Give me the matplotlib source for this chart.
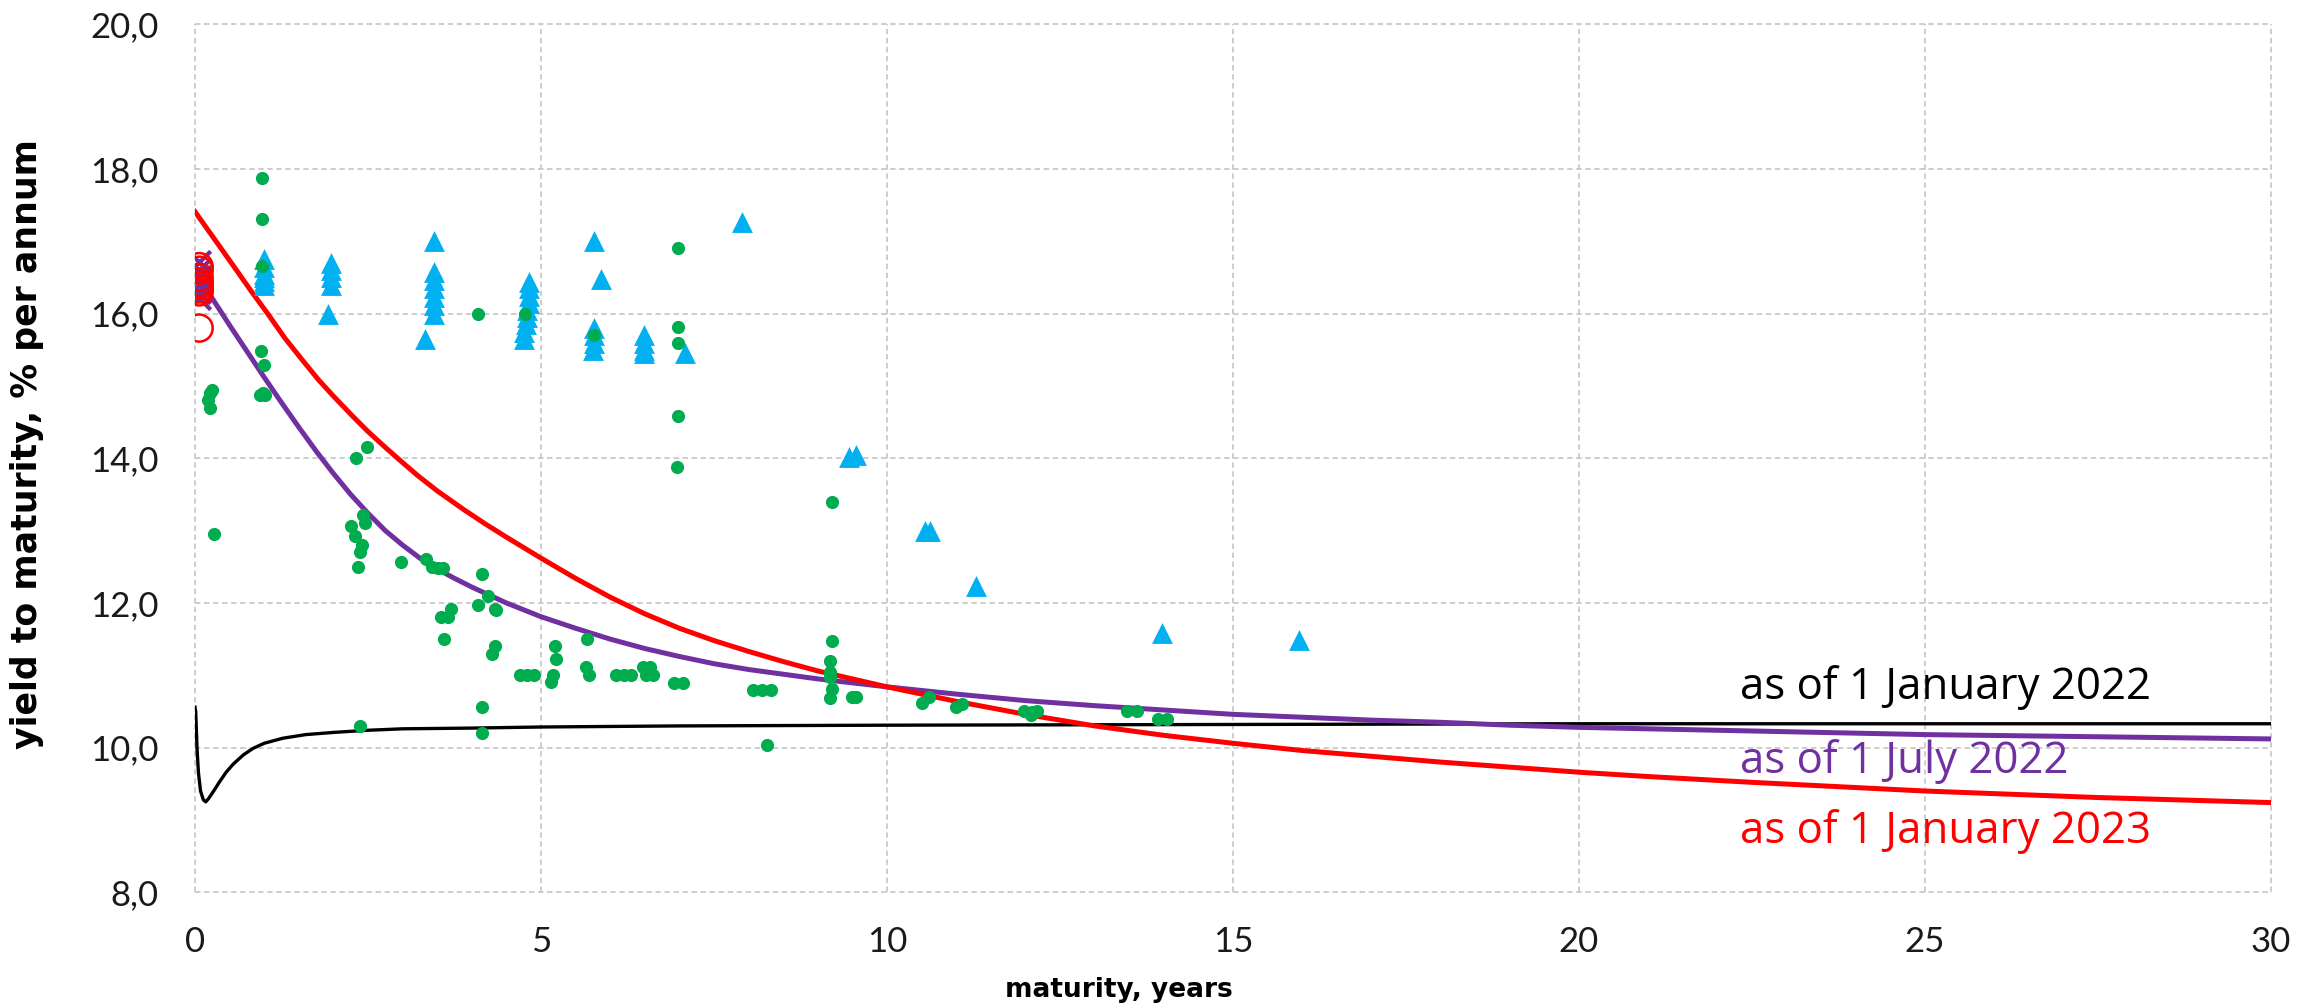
import matplotlib
matplotlib.use("Agg")
import matplotlib.pyplot as plt

# ---------------- data ----------------
# Curve: as of 1 January 2022
jan22_x = [0.0, 0.01, 0.03, 0.05, 0.08, 0.12, 0.155, 0.2, 0.27, 0.35, 0.45, 0.55, 0.7, 0.84, 1.0, 1.27, 1.6,
           2.0, 2.5, 3.0, 4.0, 5.0, 7.0, 10.0, 15.0, 20.0, 25.0, 30.0]
jan22_y = [10.56, 10.5, 9.97, 9.65, 9.4, 9.28, 9.25, 9.3, 9.4, 9.52, 9.66, 9.77, 9.9, 9.99, 10.06, 10.13, 10.18,
           10.21, 10.24, 10.26, 10.27, 10.285, 10.30, 10.31, 10.32, 10.33, 10.33, 10.33]

# Curve: as of 1 July 2022
jul22_x = [0.0, 0.25, 0.5, 0.75, 1.0, 1.25, 1.5, 1.75, 2.0, 2.25, 2.5, 2.75, 3.0, 3.25, 3.5, 3.75, 4.0, 4.5,
           5.0, 5.5, 6.0, 6.5, 7.0, 7.5, 8.0, 9.0, 10.0, 11.0, 12.0, 13.0, 14.0, 15.0, 16.0, 17.0, 18.0,
           19.0, 20.0, 22.0, 25.0, 27.5, 30.0]
jul22_y = [16.58, 16.21, 15.84, 15.48, 15.12, 14.77, 14.43, 14.1, 13.79, 13.5, 13.24, 13.0, 12.8, 12.62, 12.47,
           12.34, 12.22, 12.0, 11.81, 11.65, 11.5, 11.37, 11.26, 11.16, 11.08, 10.95, 10.84, 10.74, 10.65,
           10.58, 10.52, 10.46, 10.42, 10.38, 10.35, 10.31, 10.28, 10.24, 10.18, 10.15, 10.12]

# Curve: as of 1 January 2023
jan23_x = [0.0, 0.2, 0.4, 0.6, 0.82, 1.05, 1.3, 1.55, 1.78, 2.0, 2.26, 2.5, 2.74, 3.0, 3.22, 3.5, 3.9, 4.2,
           4.5, 5.0, 5.5, 6.0, 6.5, 7.0, 7.5, 8.0, 8.5, 9.0, 9.5, 10.0, 11.0, 12.0, 13.0, 14.0, 15.0, 16.0,
           17.0, 18.0, 19.0, 20.0, 21.0, 22.5, 25.0, 27.5, 30.0]
jan23_y = [17.41, 17.14, 16.87, 16.6, 16.3, 16.0, 15.66, 15.36, 15.09, 14.86, 14.6, 14.37, 14.16, 13.94, 13.76,
           13.55, 13.28, 13.09, 12.91, 12.62, 12.34, 12.08, 11.85, 11.65, 11.48, 11.33, 11.19, 11.06, 10.95,
           10.84, 10.64, 10.46, 10.3, 10.17, 10.06, 9.96, 9.88, 9.8, 9.73, 9.66, 9.6, 9.52, 9.4, 9.31, 9.24]

# Green dots
green_x = [0.97, 0.97, 0.97, 0.96, 1.0, 0.94, 0.98, 1.01,
           0.24, 0.22, 0.19, 0.22, 2.32, 2.48,
           4.09, 4.77, 5.77, 6.98, 6.98, 6.98, 6.98, 6.96,
           0.28, 2.26, 2.43, 2.45, 2.31, 2.41, 2.38, 2.35, 2.98,
           3.34, 3.42, 3.51, 3.58, 4.15, 4.23, 4.09, 4.33, 4.35,
           3.70, 3.56, 3.66, 3.60, 4.33, 4.29, 4.70, 4.80, 4.90,
           5.20, 5.21, 5.17, 5.15, 5.66, 5.65, 5.70, 6.08, 6.20, 6.30,
           2.38, 4.15, 4.15,
           9.21, 9.20, 9.18, 9.17, 9.17, 9.21, 9.18, 9.50, 9.55,
           6.47, 6.57, 6.52, 6.62, 6.92, 7.05, 8.06, 8.20, 8.33, 8.27,
           10.51, 10.61, 11.0, 11.09, 11.98, 12.1, 12.17, 12.08,
           13.47, 13.62, 13.91, 14.05]
green_y = [17.88, 17.31, 16.66, 15.49, 15.29, 14.87, 14.9, 14.88,
           14.94, 14.9, 14.81, 14.69, 14.0, 14.15,
           16.0, 16.0, 15.70, 16.91, 15.81, 15.60, 14.59, 13.88,
           12.95, 13.07, 13.22, 13.11, 12.92, 12.80, 12.71, 12.50, 12.56,
           12.61, 12.50, 12.49, 12.49, 12.40, 12.10, 11.97, 11.92, 11.90,
           11.91, 11.81, 11.81, 11.50, 11.40, 11.30, 11.0, 11.0, 11.0,
           11.40, 11.23, 11.0, 10.91, 11.50, 11.11, 11.0, 11.0, 11.0, 11.0,
           10.30, 10.56, 10.20,
           13.39, 11.48, 11.20, 11.05, 10.98, 10.81, 10.68, 10.70, 10.70,
           11.12, 11.12, 11.0, 11.0, 10.9, 10.9, 10.80, 10.80, 10.80, 10.03,
           10.61, 10.70, 10.56, 10.60, 10.51, 10.49, 10.50, 10.45,
           10.50, 10.50, 10.40, 10.40]

# Blue triangles
blue_x = [1.0, 1.0, 1.0, 1.0, 1.0, 1.0,
          1.97, 1.97, 1.97, 1.97, 1.92,
          3.455, 3.455, 3.455, 3.455, 3.455, 3.455, 3.455, 3.33,
          4.83, 4.83, 4.83, 4.83, 4.8, 4.8, 4.78, 4.76, 4.76,
          5.77, 5.87, 5.77, 5.77, 5.77, 5.75,
          6.49, 6.49, 6.49, 6.49,
          7.08, 7.91, 9.45, 9.55, 10.55, 10.62, 11.28, 13.98, 15.95]
blue_y = [16.75, 16.65, 16.55, 16.5, 16.45, 16.4,
          16.70, 16.6, 16.5, 16.4, 16.0,
          17.0, 16.58, 16.46, 16.35, 16.23, 16.12, 16.0, 15.65,
          16.44, 16.35, 16.25, 16.15, 16.05, 15.95, 15.85, 15.75, 15.65,
          17.0, 16.48, 15.8, 15.7, 15.6, 15.5,
          15.7, 15.6, 15.5, 15.45,
          15.46, 17.27, 14.02, 14.05, 13.0, 13.0, 12.24, 11.59, 11.49]

# Short-term points near zero maturity
redc_x = [0.06, 0.06, 0.06, 0.06, 0.06, 0.06, 0.06, 0.06]
redc_y = [16.65, 16.6, 16.5, 16.43, 16.39, 16.34, 16.3, 15.80]
purx_x = [0.06, 0.06, 0.06, 0.06, 0.06, 0.06]
purx_y = [16.72, 16.6, 16.5, 16.4, 16.3, 16.22]

xticks = [0, 5, 10, 15, 20, 25, 30]
yticks = [8, 10, 12, 14, 16, 18, 20]
ytick_labels = ["8,0", "10,0", "12,0", "14,0", "16,0", "18,0", "20,0"]
curve_labels = ["as of 1 January 2022", "as of 1 July 2022", "as of 1 January 2023"]

# ---------------- colours ----------------
C_BLACK = "#000000"
C_PURPLE = "#7030A0"
C_RED = "#FF0000"
C_GREEN = "#00AC4E"
C_BLUE = "#00B0F0"

fig = plt.figure(figsize=(23.2, 10.08), dpi=100)
ax = fig.add_axes([0.08405, 0.1148, 0.8948, 0.8611])

ax.plot(jan22_x, jan22_y, color=C_BLACK, lw=2.4, zorder=3, solid_joinstyle="round")
ax.plot(jul22_x, jul22_y, color=C_PURPLE, lw=3.6, zorder=3, solid_joinstyle="round")
ax.plot(jan23_x, jan23_y, color=C_RED, lw=3.6, zorder=4, solid_joinstyle="round")

ax.scatter(purx_x, purx_y, marker="x", s=260, color=C_PURPLE, linewidths=3, zorder=5)
ax.scatter(redc_x, redc_y, marker="o", s=380, facecolors="none", edgecolors=C_RED, linewidths=1.8, zorder=6)
ax.scatter(blue_x, blue_y, marker="^", s=225, color=C_BLUE, linewidths=0, zorder=6)
ax.scatter(green_x, green_y, marker="o", s=90, color=C_GREEN, linewidths=0, zorder=7)

ax.set_xlim(0, 30)
ax.set_ylim(8, 20)
ax.set_xticks(xticks)
ax.set_xticklabels([str(v) for v in xticks])
ax.set_yticks(yticks)
ax.set_yticklabels(ytick_labels)

for s in ax.spines.values():
    s.set_visible(False)
ax.grid(True, color="#c9c9c9", linestyle=(0, (3, 2)), linewidth=1.3, zorder=0)
ax.set_axisbelow(True)
for ln in ax.get_xgridlines() + ax.get_ygridlines():
    ln.set_clip_on(False)

ax.tick_params(axis="both", length=0, labelsize=25, colors="#1a1a1a")
ax.tick_params(axis="y", pad=26)
ax.tick_params(axis="x", pad=24)
for lab in ax.get_xticklabels() + ax.get_yticklabels():
    lab.set_family("Lato")
    lab.set_fontweight("normal")

ax.set_xlabel("maturity, years", fontsize=19, fontweight="bold", family="DejaVu Sans")
ax.xaxis.set_label_coords(0.445, -0.1126)
ax.set_ylabel("yield to maturity, % per annum", fontsize=25, fontweight="bold", family="DejaVu Sans")
ax.yaxis.set_label_coords(-0.081, 0.516)
ax.xaxis.label.set_va("center")
ax.yaxis.label.set_va("center")

ax.text(22.33, 10.67, curve_labels[0], color=C_BLACK, fontsize=31.5, family="Open Sans", ha="left", va="baseline")
ax.text(22.33, 9.65, curve_labels[1], color=C_PURPLE, fontsize=31.5, family="Open Sans", ha="left", va="baseline")
ax.text(22.33, 8.68, curve_labels[2], color=C_RED, fontsize=31.5, family="Open Sans", ha="left", va="baseline")

fig.savefig("out.png", dpi=100)
